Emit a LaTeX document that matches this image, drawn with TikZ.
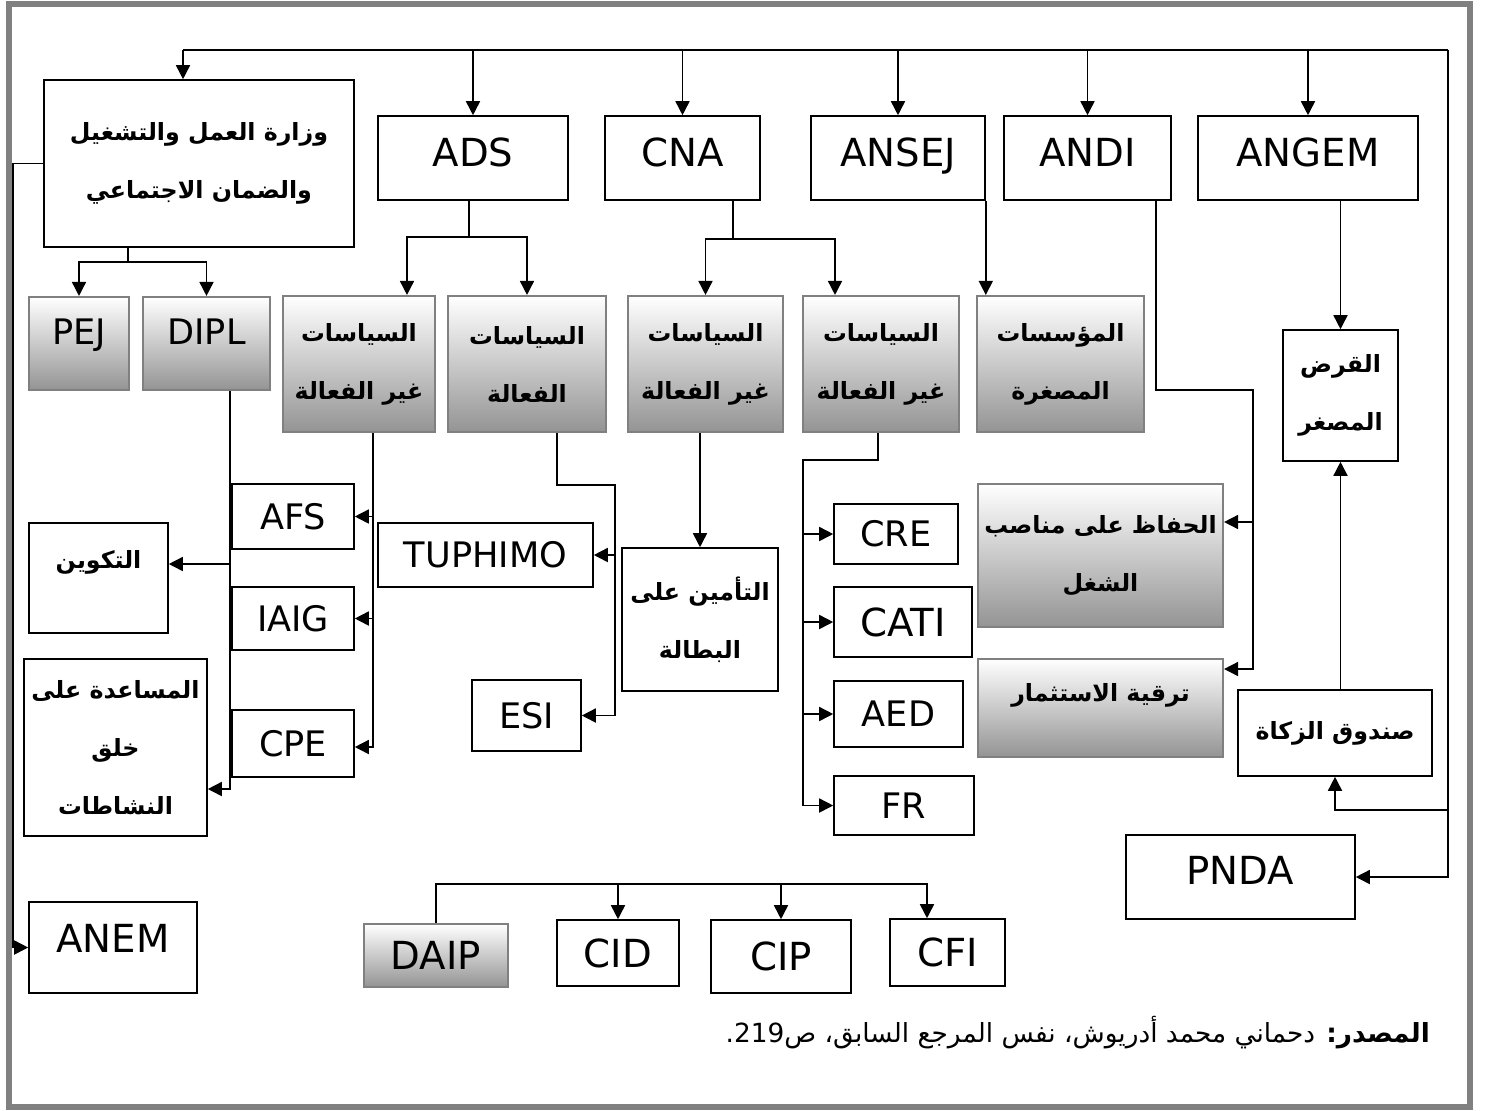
\documentclass[tikz,border=0pt]{standalone}
\usepackage{fontspec}
\setmainfont{DejaVu Sans}
\newfontfamily\arabicfont[Script=Arabic]{DejaVu Sans}
\TeXXeTstate=1
\usetikzlibrary{arrows.meta, calc}
\newcommand{\boxTopColor}{white}
\newcommand{\boxBottomColor}{black!42}
\newcommand{\frameColor}{black!50}
\newcommand{\arLabel}[1]{{\arabicfont\bfseries\beginR #1\endR}}
\newcommand{\liftText}[2]{\raisebox{#1}[\height][\depth]{#2}}
\tikzset{
    spot/.style args = {#1/#2/#3/#4}{at={({(#1+#3)/2},{(#2+#4)/2})},
                  minimum width={(#3-#1)*0.02cm}, minimum height={(#4-#2)*0.02cm}},
    box/.style = {draw=black, line width=0.9pt, inner sep=0pt, align=center},
    latbox/.style = {box, font=\fontsize{20}{24}\selectfont, text height=14.6pt, text depth=0pt},
    bigbox/.style = {box, font=\fontsize{22}{26}\selectfont, text height=16pt, text depth=0pt},
    shade/.style = {draw=black!50, line width=1.2pt,
                    top color=\boxTopColor, bottom color=\boxBottomColor},
    arbox/.style = {box, font=\fontsize{13.5}{33}\selectfont},
    arr/.style = {-{Triangle[length=8pt, width=8pt]}},
    wire/.style = {line width=0.9pt}
}

\begin{document}
\begin{tikzpicture}[x=0.02cm, y=-0.02cm]
    \useasboundingbox (0,0) rectangle (1485,1110);
    \draw[\frameColor, line width=0.11cm] (9,4) rectangle (1470,1107);

    % ministry and agencies
    \node[arbox, spot=44/80/354/247] (min)
        {\arLabel{وزارة العمل والتشغيل}\\\arLabel{والضمان الاجتماعي}};
    \node[bigbox, spot=378/116/568/200] (ads) {\liftText{3pt}{ADS}};
    \node[bigbox, spot=605/116/760/200] (cna) {\liftText{3pt}{CNA}};
    \node[bigbox, spot=811/116/985/200] (ansej) {\liftText{3pt}{ANSEJ}};
    \node[bigbox, spot=1004/116/1171/200] (andi) {\liftText{3pt}{ANDI}};
    \node[bigbox, spot=1198/116/1418/200] (angem) {\liftText{3pt}{ANGEM}};

    % second row
    \node[latbox, shade, spot=29/297/129/390] (pej) {\liftText{7pt}{PEJ}};
    \node[latbox, shade, spot=143/297/270/390] (dipl) {\liftText{7pt}{DIPL}};
    \node[arbox, shade, spot=283/296/435/432] (adsNo)
        {\arLabel{السياسات}\\\arLabel{غير الفعالة}};
    \node[arbox, shade, spot=448/296/606/432] (adsYes)
        {\arLabel{السياسات}\\\arLabel{الفعالة}};
    \node[arbox, shade, spot=628/296/783/432] (cnaNoA)
        {\arLabel{السياسات}\\\arLabel{غير الفعالة}};
    \node[arbox, shade, spot=803/296/959/432] (cnaNoB)
        {\arLabel{السياسات}\\\arLabel{غير الفعالة}};
    \node[arbox, shade, spot=977/296/1144/432] (smallEnt)
        {\arLabel{المؤسسات}\\\arLabel{المصغرة}};
    \node[arbox, spot=1283/330/1398/461] (loan)
        {\arLabel{القرض}\\\arLabel{المصغر}};

    % programmes
    \node[arbox, spot=29/523/168/633] (train) {\liftText{9pt}{\arLabel{التكوين}}};
    \node[arbox, spot=24/659/207/836] (help)
        {\arLabel{المساعدة على}\\\arLabel{خلق}\\\arLabel{النشاطات}};
    \node[latbox, spot=232/484/354/549] (afs) {AFS};
    \node[latbox, spot=232/587/354/650] (iaig) {IAIG};
    \node[latbox, spot=232/710/354/777] (cpe) {CPE};
    \node[latbox, spot=378/523/593/587] (tuph) {TUPHIMO};
    \node[latbox, spot=472/680/581/751] (esi) {ESI};
    \node[arbox, spot=622/548/778/691] (ins)
        {\arLabel{التأمين على}\\\arLabel{البطالة}};
    \node[latbox, spot=834/504/958/564] (cre) {CRE};
    \node[bigbox, spot=834/587/972/657] (cati) {CATI};
    \node[latbox, spot=834/681/963/747] (aed) {AED};
    \node[latbox, spot=834/776/974/835] (fr) {FR};
    \node[arbox, shade, spot=978/484/1223/627] (keep)
        {\arLabel{الحفاظ على مناصب}\\\arLabel{الشغل}};
    \node[arbox, shade, spot=978/659/1223/757] (prom)
        {\liftText{7pt}{\arLabel{ترقية الاستثمار}}};
    \node[arbox, spot=1238/690/1432/776] (zakat)
        {\arLabel{صندوق الزكاة}};

    % bottom row
    \node[bigbox, spot=29/902/197/993] (anem) {\liftText{5pt}{ANEM}};
    \node[bigbox, shade, spot=364/924/508/987] (daip) {DAIP};
    \node[bigbox, spot=557/920/679/986] (cid) {CID};
    \node[bigbox, spot=711/920/851/993] (cip) {CIP};
    \node[bigbox, spot=890/919/1005/986] (cfi) {CFI};
    \node[bigbox, spot=1126/835/1355/919] (pnda) {\liftText{4pt}{PNDA}};

    \node[anchor=east, font=\fontsize{15}{18}\selectfont] (src) at (1436,1033)
        {\arabicfont\beginR\textbf{المصدر:} دحماني محمد أدريوش، نفس المرجع السابق، ص\beginL 219\endL.\endR};

    % top bus
    \coordinate (busL) at (183,50);
    \coordinate (busR) at (1448,50);
    \draw[wire] (busL) -- (busR);
    \draw[wire, arr] (busL) -- (busL |- min.north);
    \foreach \n in {ads, cna, ansej, andi, angem}
        \draw[wire, arr] (\n.north |- busL) -- (\n.north);
    \draw[wire, arr] (busR) |- (pnda.east);
    \coordinate (zk) at (1448,810);
    \draw[wire, arr] (zk) -| (zakat.south);
    \draw[wire, arr] (loan.south |- zakat.north) -- (loan.south);
    \draw[wire, arr] (loan.north |- angem.south) -- (loan.north);

    % ministry
    \draw[wire, arr] (min.west) -- ++(-30,0) |- (anem.west);
    \coordinate (minFork) at (128,262);
    \draw[wire] (minFork |- min.south) -- (minFork);
    \draw[wire, arr] (minFork) -| (pej.north);
    \draw[wire, arr] (minFork) -| (dipl.north);
    \coordinate (diplLine) at (230,789);
    \draw[wire, arr] (dipl.south -| diplLine) -- (diplLine) -- (diplLine -| help.east);
    \coordinate (trainFork) at (230,564);
    \draw[wire, arr] (trainFork) -- (trainFork -| train.east);

    % ADS
    \coordinate (adsFork) at (469,237);
    \coordinate (adsForkL) at (407,237);
    \draw[wire] (adsFork |- ads.south) -- (adsFork);
    \draw[wire, arr] (adsFork) -| (adsYes.north);
    \draw[wire, arr] (adsFork) -- (adsForkL) -- (adsForkL |- adsNo.north);
    \coordinate (adsNoLine) at (373,747);
    \draw[wire, arr] (adsNoLine |- adsNo.south) -- (adsNoLine) -- (adsNoLine -| cpe.east);
    \foreach \n in {afs, iaig}
        \draw[wire, arr] (adsNoLine |- \n.east) -- (\n.east);
    \coordinate (ayA) at (557,485);
    \coordinate (ayB) at (615,485);
    \draw[wire, arr] (ayA |- adsYes.south) -- (ayA) -- (ayB) |- (esi.east);
    \draw[wire, arr] (ayB |- tuph.east) -- (tuph.east);

    % CNA
    \coordinate (cnaFork) at (733,239);
    \coordinate (cnaForkR) at (835,239);
    \draw[wire] (cnaFork |- cna.south) -- (cnaFork);
    \draw[wire, arr] (cnaFork) -| (cnaNoA.north);
    \draw[wire, arr] (cnaFork) -- (cnaForkR) -- (cnaForkR |- cnaNoB.north);
    \draw[wire, arr] (ins.north |- cnaNoA.south) -- (ins.north);
    \coordinate (cbA) at (878,460);
    \coordinate (cbB) at (803,460);
    \draw[wire, arr] (cbA |- cnaNoB.south) -- (cbA) -- (cbB) |- (fr.west);
    \foreach \n in {cre, cati, aed}
        \draw[wire, arr] (cbB |- \n.west) -- (\n.west);

    % ANSEJ, ANDI
    \draw[wire, arr] (ansej.south east) -- (ansej.south east |- smallEnt.north);
    \coordinate (adA) at (1156,390);
    \coordinate (adB) at (1253,390);
    \coordinate (adK) at (1253,522);
    \coordinate (adP) at (1253,669);
    \draw[wire, arr] (adA |- andi.south) -- (adA) -- (adB) -- (adP) -- (adP -| prom.east);
    \draw[wire, arr] (adK) -- (adK -| keep.east);

    % bottom group
    \coordinate (dpR) at (927,884);
    \draw[wire, arr] (daip.north) |- (dpR) -- (dpR |- cfi.north);
    \foreach \n in {cid, cip}
        \draw[wire, arr] (\n.north |- dpR) -- (\n.north);
\end{tikzpicture}
\end{document}
